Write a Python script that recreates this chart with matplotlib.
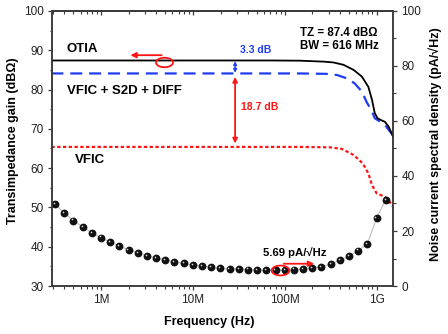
import numpy as np
import matplotlib
matplotlib.use("Agg")
import matplotlib.pyplot as plt
from matplotlib.path import Path
from matplotlib.transforms import offset_copy
from matplotlib.ticker import FixedLocator, FuncFormatter, MultipleLocator

plt.rcParams['font.family'] = ['Liberation Sans', 'DejaVu Sans']

# transimpedance gain curves (log10 of frequency, gain in dBOhm)
otia_logf = [5.46, 7.34, 7.88, 8.17, 8.43, 8.53, 8.64, 8.75, 8.84, 8.91, 8.95, 8.98, 9.01, 9.06, 9.09, 9.13, 9.18]
otia_gain = [87.4, 87.4, 87.4, 87.35, 87.1, 86.9, 86.3, 85.0, 83.3, 80.7, 77.4, 74.0, 72.7, 72.1, 71.8, 70.6, 68.0]

s2d_logf = [5.46, 8.17, 8.45, 8.57, 8.67, 8.76, 8.84, 8.89, 8.95, 8.98, 9.04, 9.10, 9.16, 9.18]
s2d_gain = [84.1, 84.1, 84.0, 83.7, 82.9, 81.6, 79.5, 76.9, 74.4, 72.7, 71.8, 70.7, 68.9, 68.3]

vfic_logf = [5.46, 8.17, 8.49, 8.62, 8.75, 8.85, 8.91, 8.95, 9.00, 9.09, 9.14, 9.18]
vfic_gain = [65.4, 65.4, 65.3, 64.9, 63.35, 61.2, 58.7, 55.7, 53.6, 52.7, 51.5, 50.2]

# input-referred noise current (pA/sqrt(Hz))
noise_logf = [5.5, 5.6, 5.7, 5.8, 5.9, 6.0, 6.1, 6.2, 6.3, 6.4, 6.5, 6.6, 6.7,
              6.8, 6.9, 7.0, 7.1, 7.2, 7.3, 7.4, 7.5, 7.6, 7.7, 7.8, 7.9, 8.0,
              8.1, 8.2, 8.3, 8.4, 8.5, 8.6, 8.7, 8.8, 8.9, 9.0, 9.1]
noise_val = [29.7, 26.6, 23.8, 21.5, 19.4, 17.6, 16.0, 14.5, 13.2, 12.1, 11.0, 10.2, 9.5,
             8.8, 8.2, 7.7, 7.2, 6.8, 6.4, 6.3, 6.1, 6.0, 5.8, 5.75, 5.72, 5.69,
             6.0, 6.2, 6.6, 7.0, 8.0, 9.3, 10.8, 12.9, 15.4, 24.7, 31.4]

tz_gain = 87.4
s2d_flat = 84.1
vfic_flat = 65.4
noise_min = 5.69

xtick_vals = [1e6, 1e7, 1e8, 1e9]
xtick_labels = ['1M', '10M', '100M', '1G']

RED = '#ff1414'
BLUE = '#1f3cf0'
AXC = '#3a3a3a'


def f(logs):
    return 10 ** np.asarray(logs)


fig = plt.figure(figsize=(4.48, 3.34), dpi=100)
ax = fig.add_axes([0.1161, 0.1437, 0.7618, 0.8234])
ax2 = ax.twinx()

ax.set_xscale('log')
ax.set_xlim(2.93e5, 1.52e9)
ax.set_ylim(30, 100)
ax2.set_ylim(0, 100)

ax.plot(f(otia_logf), otia_gain, color='black', lw=1.3, zorder=3)
ax.plot(f(s2d_logf), s2d_gain, color=BLUE, lw=1.6, dashes=(5.4, 3.1), zorder=2)
ax.plot(f(vfic_logf), vfic_gain, color=RED, lw=1.6, dashes=(1.5, 1.1), zorder=2)

# noise: grey guide line + shaded spheres
ax2.plot(f(noise_logf), noise_val, color='#c4c4c4', lw=0.9, zorder=1)
ax2.plot(f(noise_logf), noise_val, 'o', color='#111111', ms=4.6, mec='#111111', zorder=2)
hl = offset_copy(ax2.transData, fig=fig, x=-0.8, y=0.8, units='points')
ax2.plot(f(noise_logf), noise_val, 'o', color='#d8d8d8', ms=1.2, mew=0, transform=hl, zorder=3)

# open ellipse marker for the red call-outs
t = np.linspace(0, 2 * np.pi, 80)
ellipse = Path(np.column_stack([np.cos(t), 0.56 * np.sin(t)]))

ax.plot([10 ** 6.69], [87.0], marker=ellipse, ms=12.2, mfc='none', mec=RED, mew=1.3, zorder=4)
ax.annotate('', xy=(10 ** 6.32, 88.75), xytext=(10 ** 6.66, 88.75),
            arrowprops=dict(arrowstyle='-|>', color=RED, lw=1.3, mutation_scale=8,
                            shrinkA=0, shrinkB=0))

ax2.plot([10 ** 7.95], [noise_min], marker=ellipse, ms=12.7, mfc='none', mec=RED, mew=1.3, zorder=4)
ax2.annotate('', xy=(10 ** 8.32, 8.1), xytext=(10 ** 7.99, 8.1),
             arrowprops=dict(arrowstyle='-|>', color=RED, lw=1.3, mutation_scale=8,
                             shrinkA=0, shrinkB=0))

# gain difference arrows
x_arr = 10 ** 7.46
ax.annotate('', xy=(x_arr, tz_gain), xytext=(x_arr, s2d_flat),
            arrowprops=dict(arrowstyle='<|-|>', color=BLUE, lw=1.0, mutation_scale=5,
                            shrinkA=0.5, shrinkB=0.5))
ax.annotate('', xy=(x_arr, s2d_flat), xytext=(x_arr, vfic_flat),
            arrowprops=dict(arrowstyle='<|-|>', color=RED, lw=1.3, mutation_scale=7,
                            shrinkA=2.5, shrinkB=2.5))

bold = dict(fontweight='bold', va='center', ha='left')
ax.text(10 ** 5.63, 90.3, 'OTIA', fontsize=9.5, **bold)
ax.text(10 ** 5.63, 79.6, 'VFIC + S2D + DIFF', fontsize=9.5, **bold)
ax.text(10 ** 5.72, 62.1, 'VFIC', fontsize=9.5, **bold)
ax.text(10 ** 8.165, 94.5, 'TZ = %.1f dB\u03a9' % tz_gain, fontsize=8.3, **bold)
ax.text(10 ** 8.165, 91.2, 'BW = 616 MHz', fontsize=8.3, **bold)
ax.text(10 ** 7.51, 90.1, '%.1f dB' % (tz_gain - s2d_flat), fontsize=7.5, color=BLUE, **bold)
ax.text(10 ** 7.52, 75.6, '%.1f dB' % (s2d_flat - vfic_flat), fontsize=7.5, color=RED, **bold)
ax2.text(10 ** 7.765, 12.3, '%.2f pA/\u221aHz' % noise_min, fontsize=8.2, **bold)

# axes styling
ax.xaxis.set_major_locator(FixedLocator(xtick_vals))
ax.xaxis.set_major_formatter(FuncFormatter(lambda v, p: dict(zip(xtick_vals, xtick_labels)).get(v, '')))
ax.yaxis.set_major_locator(MultipleLocator(10))
ax.yaxis.set_minor_locator(MultipleLocator(5))
ax2.yaxis.set_major_locator(MultipleLocator(20))
ax2.yaxis.set_minor_locator(MultipleLocator(10))

for a in (ax, ax2):
    for s in a.spines.values():
        s.set_color(AXC)
        s.set_linewidth(1.1)
    a.tick_params(which='major', length=3.2, width=0.9, color=AXC, labelsize=8.5,
                  labelcolor='#222222', pad=2.5)
    a.tick_params(which='minor', length=1.8, width=0.8, color=AXC)
ax.tick_params(axis='x', which='both', direction='out')

top = ax.secondary_xaxis('top')
top.xaxis.set_major_locator(FixedLocator(xtick_vals))
top.tick_params(which='major', direction='in', length=3.2, width=0.9, color=AXC, labeltop=False)
top.tick_params(which='minor', direction='in', length=1.8, width=0.8, color=AXC)
top.spines['top'].set_color(AXC)
top.spines['top'].set_linewidth(1.1)

ax.set_xlabel('Frequency (Hz)', fontsize=9, fontweight='bold')
ax.set_ylabel('Transimpedance gain (dB\u03a9)', fontsize=9, fontweight='bold')
ax2.set_ylabel('Noise current spectral density (pA/\u221aHz)', fontsize=9, fontweight='bold')
ax.xaxis.set_label_coords(0.46, -0.108)
ax.yaxis.set_label_coords(-0.098, 0.527)
ax2.yaxis.set_label_coords(1.102, 0.516)

fig.savefig('out.png', dpi=100)
